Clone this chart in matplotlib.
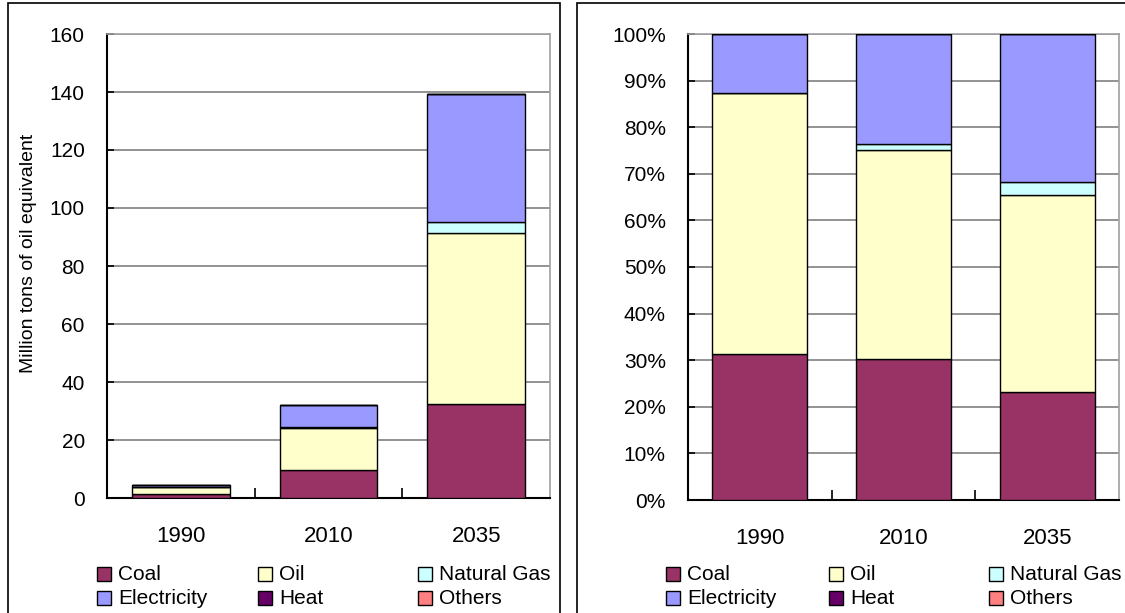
import matplotlib
matplotlib.use("Agg")
import matplotlib.pyplot as plt
from matplotlib.patches import Rectangle
from matplotlib.ticker import FuncFormatter, MultipleLocator
import numpy as np

plt.rcParams['font.family'] = ['Liberation Sans', 'DejaVu Sans']

years = ["1990", "2010", "2035"]
series_names = ["Coal", "Oil", "Natural Gas", "Electricity", "Heat", "Others"]
coal = [1.36, 9.7, 32.4]
oil = [2.42, 14.4, 58.9]
natural_gas = [0.0, 0.45, 3.9]
electricity = [0.55, 7.55, 44.2]
heat = [0.0, 0.0, 0.0]
others = [0.0, 0.0, 0.0]
colors = ["#993366", "#FFFFCC", "#CCFFFF", "#9999FF", "#660066", "#FF8080"]

data = np.array([coal, oil, natural_gas, electricity, heat, others])
share = data / data.sum(axis=0) * 100

W, H = 1125, 613
fig = plt.figure(figsize=(W / 100, H / 100), dpi=100)

def fx(px):
    return px / W

def fy(py):
    return 1 - py / H

# panel borders
for (x0, x1) in [(8, 560), (577, 1130)]:
    fig.patches.append(Rectangle((fx(x0), fy(640)), fx(x1 - x0), (640 - 3) / H,
                                 transform=fig.transFigure, fill=False,
                                 edgecolor="black", linewidth=1.2))

ax1 = fig.add_axes([fx(107), fy(498), fx(550 - 107), (498 - 34) / H])
ax2 = fig.add_axes([fx(688), fy(500), fx(1119 - 688), (500 - 34) / H])

x = np.arange(len(years))
FS = 15

def draw(ax, vals, ymax, step, fmt):
    bottom = np.zeros(len(years))
    for i, name in enumerate(series_names):
        ax.bar(x, vals[i], 0.66, bottom=bottom, color=colors[i],
               edgecolor="black", linewidth=1.0, zorder=3)
        bottom += vals[i]
    ax.set_xlim(-0.5, 2.5)
    ax.set_ylim(0, ymax)
    ax.yaxis.set_major_locator(MultipleLocator(step))
    ax.yaxis.set_major_formatter(FuncFormatter(fmt))
    ax.grid(axis="y", color="#808080", linewidth=1.2, zorder=0)
    ax.set_xticks(x)
    ax.set_xticklabels(years)
    ax.set_xticks([0.5, 1.5], minor=True)
    ax.tick_params(axis="x", which="major", length=0, pad=20, labelsize=16)
    ax.tick_params(axis="x", which="minor", direction="in", length=7, width=1.2)
    ax.tick_params(axis="y", direction="in", length=5, width=1.2, pad=16, labelsize=FS)
    for s in ["top", "right"]:
        ax.spines[s].set_color("#a0a0a0")
        ax.spines[s].set_linewidth(1.2)
    for s in ["left", "bottom"]:
        ax.spines[s].set_color("black")
        ax.spines[s].set_linewidth(1.5)

draw(ax1, data, 160, 20, lambda v, p: f"{v:.0f}")
draw(ax2, share, 100, 10, lambda v, p: f"{v:.0f}%")
ax1.set_ylabel("Million tons of oil equivalent", fontsize=14)
ax1.yaxis.set_label_coords(-(107 - 37) / (550 - 107), (498 - 253) / (498 - 34))

# legends
def legend(cols_x):
    rows_y = [574, 598]
    order = [[0, 1, 2], [3, 4, 5]]
    for r, row in enumerate(order):
        for c, idx in enumerate(row):
            sx = cols_x[c]
            sy = rows_y[r]
            fig.patches.append(Rectangle((fx(sx), fy(sy + 7)), fx(14), 14 / H,
                                         transform=fig.transFigure,
                                         facecolor=colors[idx], edgecolor="black",
                                         linewidth=1.0))
            fig.text(fx(sx + 21), fy(sy), series_names[idx], fontsize=FS,
                     va="center", ha="left")

legend([97, 258, 418])
legend([666, 829, 989])

fig.savefig("out.png", dpi=100)
